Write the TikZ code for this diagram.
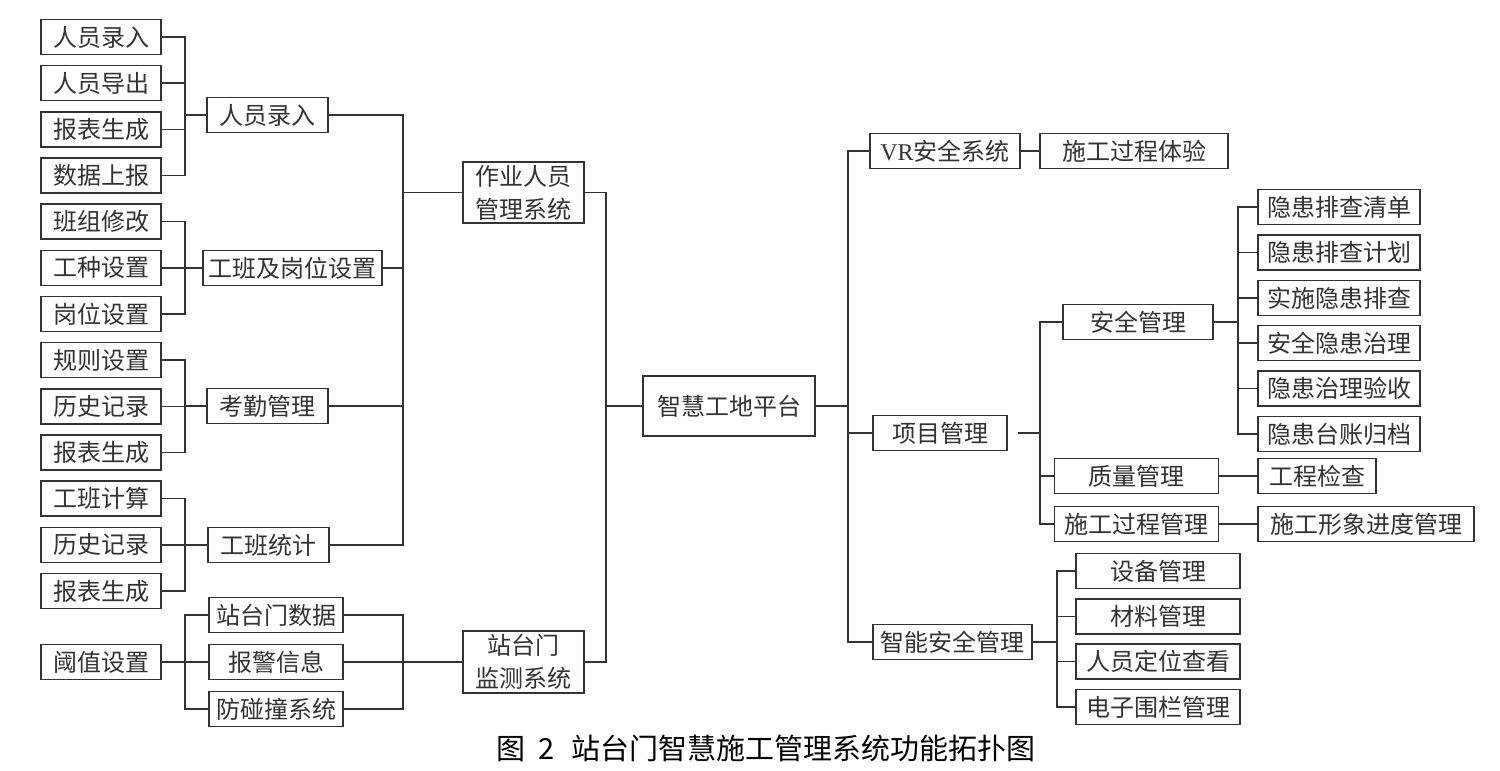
\documentclass[tikz,border=0pt]{standalone}
\usepackage{fontspec}
\newfontfamily\cjk{Noto Sans CJK SC}
\newfontfamily\latin{Liberation Serif}
\begin{document}
\begin{tikzpicture}[x=1pt,y=-1pt,
  box/.style={draw=black!80,line width=1.5pt,minimum height=35pt,inner sep=0pt,align=center,text=black!80,font=\cjk\fontsize{24}{33}\selectfont},
  link/.style={draw=black!80,line width=1.5pt}]
\useasboundingbox[fill=white] (0,0) rectangle (1500,771);
\foreach \t [count=\i from 0] in {人员录入,人员导出,报表生成,数据上报,班组修改,工种设置,岗位设置,规则设置,历史记录,报表生成,工班计算,历史记录,报表生成}
  \node[box,minimum width=120pt] (l\i) at (101,{37+46.17*\i}) {\t};
\node[box,minimum width=120pt] (l13) at (101,662) {阈值设置};
\node[box,minimum width=121pt] (m1) at (267.5,115) {人员录入};
\node[box,minimum width=179pt] (m2) at (292.5,268) {工班及岗位设置};
\node[box,minimum width=121pt] (m3) at (267.5,406) {考勤管理};
\node[box,minimum width=121pt] (m4) at (268.5,545) {工班统计};
\node[box,minimum width=134pt] (m5) at (276,615) {站台门数据};
\node[box,minimum width=134pt] (m6) at (276,662) {报警信息};
\node[box,minimum width=134pt] (m7) at (276,709) {防碰撞系统};
\node[box,minimum width=121pt,minimum height=61pt] (s1) at (523.5,192.5) {作业人员\\管理系统};
\node[box,minimum width=121pt,minimum height=62pt] (s2) at (523.5,662) {站台门\\监测系统};
\node[box,minimum width=172pt,minimum height=60pt] (root) at (729,406) {智慧工地平台};
\node[box,minimum width=150pt] (r1) at (945,151) {{\latin VR}安全系统};
\node[box,minimum width=134pt] (r2) at (940,433) {项目管理};
\node[box,minimum width=159pt] (r3) at (952.5,642) {智能安全管理};
\node[box,minimum width=188pt] (v1) at (1134,151) {施工过程体验};
\node[box,minimum width=150pt] (p1) at (1138,322) {安全管理};
\node[box,minimum width=164pt] (p2) at (1136.5,476) {质量管理};
\node[box,minimum width=164pt] (p3) at (1136.5,524) {施工过程管理};
\foreach \t [count=\i] in {隐患排查清单,隐患排查计划,实施隐患排查,安全隐患治理,隐患治理验收,隐患台账归档}
  \node[box,minimum width=162pt] (h\i) at (1339,{207+45.4*(\i-1)}) {\t};
\node[box,minimum width=118pt] (q1) at (1317,476) {工程检查};
\node[box,minimum width=216pt] (q2) at (1366,524) {施工形象进度管理};
\foreach \t [count=\i] in {设备管理,材料管理,人员定位查看,电子围栏管理}
  \node[box,minimum width=164pt] (e\i) at (1158,{571+45.3*(\i-1)}) {\t};
\coordinate (bA) at (185,0);
\coordinate (bB) at (403,0);
\coordinate (bC) at (606,0);
\coordinate (bD) at (848,0);
\coordinate (bE) at (1040,0);
\coordinate (bF) at (1238,0);
\coordinate (bG) at (1057,0);
\foreach \i in {0,...,3} \draw[link] (l\i.east) -| (bA |- m1.west) -- (m1.west);
\foreach \i in {4,5,6} \draw[link] (l\i.east) -| (bA |- m2.west) -- (m2.west);
\foreach \i in {7,8,9} \draw[link] (l\i.east) -| (bA |- m3.west) -- (m3.west);
\foreach \i in {10,11,12} \draw[link] (l\i.east) -| (bA |- m4.west) -- (m4.west);
\foreach \m in {m5,m6,m7} \draw[link] (\m.west) -| (bA |- l13.east) -- (l13.east);
\foreach \m in {m1,m2,m3,m4} \draw[link] (\m.east) -| (bB |- s1.west) -- (s1.west);
\foreach \m in {m5,m6,m7} \draw[link] (\m.east) -| (bB |- s2.west) -- (s2.west);
\foreach \s in {s1,s2} \draw[link] (\s.east) -| (bC |- root.west) -- (root.west);
\foreach \r in {r1,r2,r3} \draw[link] (root.east) -| (bD |- \r.west) -- (\r.west);
\draw[link] (r1) -- (v1);
\foreach \p in {p1,p2,p3} \draw[link,shorten <=10pt] (r2.east) -| (bE |- \p.west) -- (\p.west);
\foreach \i in {1,...,6} \draw[link] (p1.east) -| (bF |- h\i.west) -- (h\i.west);
\draw[link] (p2) -- (q1);
\draw[link] (p3) -- (q2);
\foreach \i in {1,...,4} \draw[link] (r3.east) -| (bG |- e\i.west) -- (e\i.west);
\node[anchor=west,inner sep=0pt,font=\cjk\fontsize{29}{29}\selectfont] (cap) at (496,748) {图\hspace{13pt}2\hspace{17pt}站台门智慧施工管理系统功能拓扑图};
\end{tikzpicture}
\end{document}
